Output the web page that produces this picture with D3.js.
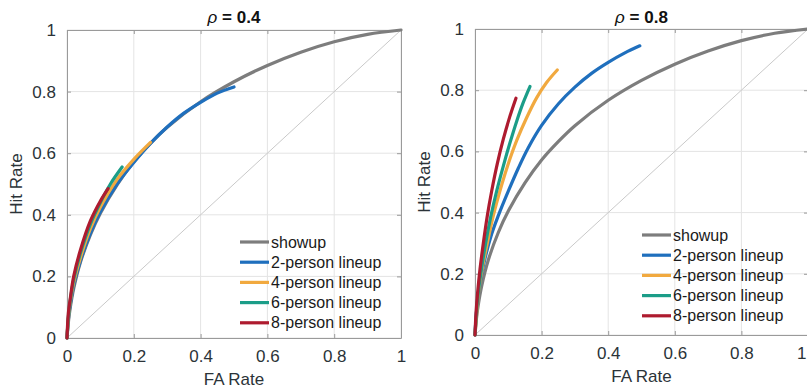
<!DOCTYPE html>
<html>
<head>
<meta charset="utf-8">
<script src="https://cdn.jsdelivr.net/npm/d3@7"></script>
<style>
  html, body { margin: 0; padding: 0; background: #ffffff; }
  svg { display: block; }
  text { font-family: "Liberation Sans", Arial, Helvetica, sans-serif; }
</style>
</head>
<body>
<svg id="chart" width="807" height="390"></svg>
<script>
// ---------------- data ----------------
const tickValues = [0, 0.2, 0.4, 0.6, 0.8, 1];
const tickLabels = ["0", "0.2", "0.4", "0.6", "0.8", "1"];
const seriesNames = ["showup", "2-person lineup", "4-person lineup", "6-person lineup", "8-person lineup"];
const panelTitles = ["0.4", "0.8"];
const xLabel = "FA Rate";
const yLabel = "Hit Rate";

// showup ROC (same in both panels) : [FA, Hit]
const showup = [[0,0],[0.005,0.06],[0.01,0.1],[0.02,0.16],[0.04,0.245],[0.07,0.335],[0.1,0.405],[0.15,0.497],
  [0.2,0.572],[0.25,0.632],[0.3,0.684],[0.4,0.767],[0.5,0.832],[0.6,0.885],[0.7,0.928],[0.8,0.962],[0.9,0.986],[1,1]];

// rho = 0.4
const rho04_lineup2 = [[0,0],[0.005,0.07],[0.01,0.11],[0.02,0.17],[0.04,0.25],[0.07,0.34],[0.1,0.41],[0.15,0.5],
  [0.2,0.57],[0.25,0.632],[0.3,0.685],[0.35,0.73],[0.4,0.765],[0.45,0.795],[0.5,0.815]];
const rho04_lineup4 = [[0,0],[0.005,0.075],[0.01,0.12],[0.02,0.18],[0.04,0.26],[0.07,0.355],[0.1,0.425],[0.15,0.515],
  [0.2,0.58],[0.25,0.635]];
const rho04_lineup6 = [[0,0],[0.005,0.08],[0.01,0.125],[0.02,0.19],[0.04,0.275],[0.07,0.37],[0.1,0.44],[0.13,0.5],[0.165,0.555]];
const rho04_lineup8 = [[0,0],[0.004,0.08],[0.01,0.13],[0.02,0.2],[0.04,0.285],[0.07,0.38],[0.1,0.445],[0.123,0.485]];

// rho = 0.8
const rho08_lineup2 = [[0,0],[0.005,0.08],[0.015,0.17],[0.03,0.25],[0.05,0.33],[0.07,0.39],[0.1,0.47],[0.13,0.545],
  [0.16,0.612],[0.2,0.685],[0.25,0.755],[0.3,0.81],[0.35,0.855],[0.4,0.891],[0.45,0.922],[0.495,0.945]];
const rho08_lineup4 = [[0,0],[0.005,0.07],[0.012,0.15],[0.022,0.22],[0.035,0.29],[0.055,0.39],[0.08,0.49],[0.1,0.56],
  [0.125,0.635],[0.155,0.71],[0.185,0.775],[0.215,0.825],[0.247,0.866]];
const rho08_lineup6 = [[0,0],[0.004,0.07],[0.01,0.14],[0.02,0.22],[0.032,0.3],[0.047,0.385],[0.065,0.47],[0.085,0.552],
  [0.105,0.628],[0.125,0.698],[0.145,0.76],[0.165,0.812]];
const rho08_lineup8 = [[0,0],[0.003,0.07],[0.008,0.14],[0.015,0.215],[0.025,0.3],[0.037,0.39],[0.05,0.47],[0.067,0.56],
  [0.085,0.64],[0.104,0.712],[0.123,0.774]];

const chanceLine = [[0,0],[1,1]];

// ---------------- styles ----------------
const colors = ["#7d7d7d", "#1f6fbd", "#f1a93f", "#1b9d88", "#ae1b2f"];

const panels = [
  { title: panelTitles[0], series: [showup, rho04_lineup2, rho04_lineup4, rho04_lineup6, rho04_lineup8],
    x0: 67, x1: 401, y0: 338, y1: 30, legX: 240, legY: 242 },
  { title: panelTitles[1], series: [showup, rho08_lineup2, rho08_lineup4, rho08_lineup6, rho08_lineup8],
    x0: 475, x1: 808, y0: 335, y1: 29, legX: 642, legY: 235 }
];

const svg = d3.select("#chart");
const W = 807;

panels.forEach(p => {
  const x = d3.scaleLinear().domain([0, 1]).range([p.x0, p.x1]);
  const y = d3.scaleLinear().domain([0, 1]).range([p.y0, p.y1]);
  const g = svg.append("g");

  // grid
  g.append("g").selectAll("line").data(tickValues).join("line")
    .attr("x1", d => x(d)).attr("x2", d => x(d)).attr("y1", y(0)).attr("y2", y(1))
    .attr("stroke", "#e4e4e4").attr("stroke-width", 1);
  g.append("g").selectAll("line").data(tickValues).join("line")
    .attr("y1", d => y(d)).attr("y2", d => y(d)).attr("x1", x(0)).attr("x2", x(1))
    .attr("stroke", "#e4e4e4").attr("stroke-width", 1);

  // axes (inward ticks, MATLAB style)
  const axB = d3.axisBottom(x).tickValues(tickValues).tickFormat((d, i) => tickLabels[i]).tickSizeInner(-4).tickSizeOuter(0).tickPadding(12);
  const axL = d3.axisLeft(y).tickValues(tickValues).tickFormat((d, i) => tickLabels[i]).tickSizeInner(-4).tickSizeOuter(0).tickPadding(11);
  const axT = d3.axisTop(x).tickValues(tickValues).tickFormat("").tickSizeInner(-4).tickSizeOuter(0);
  const axR = d3.axisRight(y).tickValues(tickValues).tickFormat("").tickSizeInner(-4).tickSizeOuter(0);

  [[axB, `translate(0,${y(0)})`, "b"], [axL, `translate(${x(0)},0)`, "l"], [axT, `translate(0,${y(1)})`, "t"], [axR, `translate(${x(1)},0)`, "r"]]
    .forEach(([ax, tr, side]) => {
      const a = g.append("g").attr("transform", tr).call(ax);
      a.select(".domain").attr("stroke", "#9a9a9a").attr("stroke-width", 1);
      a.selectAll(".tick line").attr("stroke", "#9a9a9a");
      a.selectAll(".tick text").attr("fill", "#2b3338").style("font-size", "17px").style("font-family", "'Liberation Sans', Arial, sans-serif");
      if (side === "b") {
        // keep the last label inside the window when the axis runs to the edge
        a.selectAll(".tick text").each(function(d) {
          const bb = this.getBBox();
          const cx = x(d);
          if (cx + bb.width / 2 > W) {
            d3.select(this).attr("text-anchor", "end").attr("x", W - cx - 1);
          }
        });
      }
    });

  // chance diagonal
  const line = d3.line().x(d => x(d[0])).y(d => y(d[1]));
  g.append("path").datum(chanceLine).attr("d", line)
    .attr("fill", "none").attr("stroke", "#c9c9c9").attr("stroke-width", 1);

  // ROC curves
  const curve = d3.line().x(d => x(d[0])).y(d => y(d[1])).curve(d3.curveCatmullRom.alpha(0.5));
  p.series.forEach((s, i) => {
    g.append("path").datum(s).attr("d", curve)
      .attr("fill", "none").attr("stroke", colors[i]).attr("stroke-width", 3.2)
      .attr("stroke-linecap", "round").attr("stroke-linejoin", "round");
  });

  // title
  const t = g.append("text").attr("x", (p.x0 + p.x1) / 2).attr("y", 23).attr("text-anchor", "middle")
    .attr("fill", "#111").style("font-size", "17px").style("font-weight", "bold");
  t.append("tspan").style("font-style", "italic").style("font-weight", "normal").text("ρ");
  t.append("tspan").text(" = " + p.title);

  // axis labels
  g.append("text").attr("x", (p.x0 + p.x1) / 2).attr("y", p.y0 + 47).attr("text-anchor", "middle")
    .attr("fill", "#2b3338").style("font-size", "17px").text(xLabel);
  g.append("text").attr("transform", `translate(${p.x0 - 45},${(p.y0 + p.y1) / 2}) rotate(-90)`)
    .attr("text-anchor", "middle").attr("fill", "#2b3338").style("font-size", "17px").text(yLabel);

  // legend
  const leg = g.append("g").attr("transform", `translate(${p.legX},${p.legY})`);
  const rows = leg.selectAll("g").data(seriesNames).join("g")
    .attr("transform", (d, i) => `translate(0,${i * 20.2})`);
  rows.append("line").attr("x1", 0).attr("x2", 29).attr("y1", 0).attr("y2", 0)
    .attr("stroke", (d, i) => colors[i]).attr("stroke-width", 3.2);
  rows.append("text").attr("x", 31).attr("y", 0).attr("dy", "0.35em")
    .attr("fill", "#1a1a1a").style("font-size", "16px").text(d => d);
});
</script>
</body>
</html>
